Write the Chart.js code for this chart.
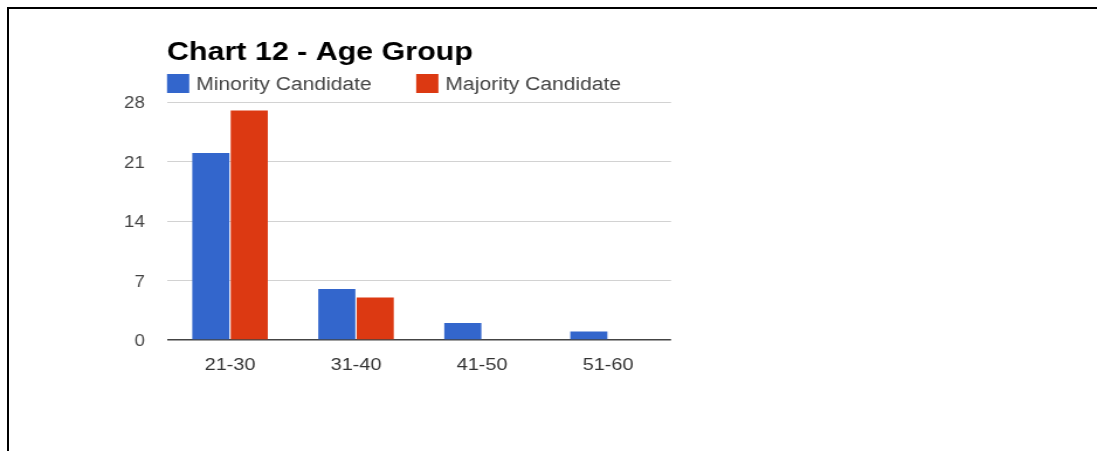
<!DOCTYPE html>
<html>
<head>
<meta charset="utf-8">
<script src="https://cdn.jsdelivr.net/npm/chart.js@4.4.0/dist/chart.umd.min.js"></script>
<style>
  html, body { margin: 0; padding: 0; background: #fff; width: 1097px; height: 451px; overflow: hidden; }
  #frame { position: absolute; left: 7px; top: 7px; width: 1100px; height: 460px;
           border-top: 2px solid #000; border-left: 2px solid #000; }
  #wrap { position: absolute; left: 0; top: 0; width: 938px; height: 451px;
          transform: scaleX(1.1695); transform-origin: 0 0; }
  canvas { display: block; }
</style>
</head>
<body>
<div id="frame"></div>
<div id="wrap"><canvas id="chart" width="938" height="451" style="width:938px;height:451px"></canvas></div>
<script>
const chartTitle = 'Chart 12 - Age Group';
const categories = ['21-30', '31-40', '41-50', '51-60'];
const minorityValues = [22, 6, 2, 1];
const majorityValues = [27, 5, 0, 0];
const yTicks = [0, 7, 14, 21, 28];

const FONT = '"Liberation Sans", Arial, Helvetica, sans-serif';

// Title and legend laid out from the plot's left edge
const headerPlugin = {
  id: 'header',
  afterDraw(chart) {
    const ctx = chart.ctx;
    const left = chart.chartArea.left;
    ctx.save();
    ctx.textBaseline = 'alphabetic';
    ctx.textAlign = 'left';
    ctx.fillStyle = '#000';
    ctx.font = 'bold 26px ' + FONT;
    ctx.fillText(chartTitle, left, 60);

    ctx.font = '18px ' + FONT;
    let x = left;
    chart.data.datasets.forEach(ds => {
      ctx.fillStyle = ds.backgroundColor;
      ctx.fillRect(x, 74, 19, 19);
      ctx.fillStyle = '#444';
      ctx.fillText(ds.label, x + 25, 90);
      x += 25 + ctx.measureText(ds.label).width + 38;
    });
    ctx.restore();
  }
};

new Chart(document.getElementById('chart'), {
  type: 'bar',
  data: {
    labels: categories,
    datasets: [
      { label: 'Minority Candidate', data: minorityValues, backgroundColor: '#3366cc' },
      { label: 'Majority Candidate', data: majorityValues, backgroundColor: '#dc3912' }
    ]
  },
  options: {
    responsive: false,
    devicePixelRatio: 1,
    animation: false,
    layout: { padding: { left: 102.8, right: 364.2, top: 102, bottom: 71 } },
    datasets: { bar: { categoryPercentage: 0.61, barPercentage: 0.965 } },
    plugins: {
      legend: { display: false },
      title: { display: false },
      tooltip: { enabled: false }
    },
    scales: {
      x: {
        grid: { display: false },
        border: { display: false },
        ticks: { color: '#333', font: { family: FONT, size: 17 }, padding: 7 },
        afterFit(scale) { scale.height = 40; }
      },
      y: {
        min: 0,
        max: 28,
        afterBuildTicks(scale) { scale.ticks = yTicks.map(v => ({ value: v })); },
        border: { display: false },
        grid: {
          drawTicks: false,
          color: c => (c.tick && c.tick.value === 0 ? '#444' : '#d2d2d2'),
          lineWidth: c => (c.tick && c.tick.value === 0 ? 1.5 : 1)
        },
        ticks: { color: '#444', font: { family: FONT, size: 16 }, padding: 19, labelOffset: 2 },
        afterFit(scale) { scale.width = 40; }
      }
    }
  },
  plugins: [headerPlugin]
});
</script>
</body>
</html>
